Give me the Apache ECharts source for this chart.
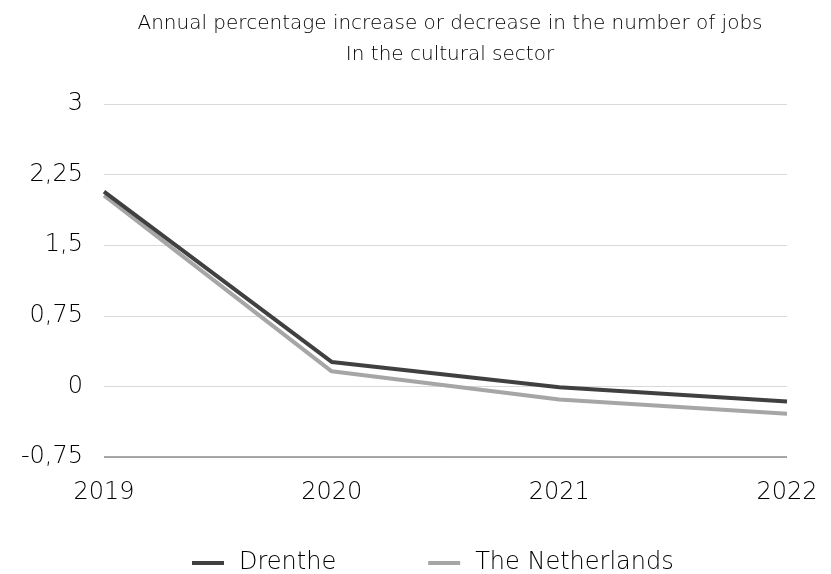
<!DOCTYPE html>
<html>
<head>
<meta charset="utf-8">
<script src="https://cdn.jsdelivr.net/npm/echarts@6/dist/echarts.min.js"></script>
<style>
  html, body { margin: 0; padding: 0; background: #fff; }
  #chart { width: 831px; height: 574px; }
</style>
</head>
<body>
<div id="chart"></div>
<script>
// data
const years = ['2019', '2020', '2021', '2022'];
const drenthe = [2.07, 0.26, -0.01, -0.16];
const netherlands = [2.03, 0.16, -0.14, -0.29];

const font = '"DejaVu Sans", sans-serif';

const chart = echarts.init(document.getElementById('chart'));
chart.setOption({
  animation: false,
  textStyle: { fontFamily: font },
  title: {
    text: 'Annual percentage increase or decrease in the number of jobs\nIn the cultural sector',
    left: 445,
    textAlign: 'center',
    top: 3,
    textStyle: { fontSize: 20, fontWeight: 'lighter', color: '#000', lineHeight: 31, fontFamily: font }
  },
  legend: {
    top: 546,
    left: 187,
    itemGap: 92,
    itemWidth: 32,
    itemHeight: 4,
    icon: 'rect',
    textStyle: { fontSize: 24, fontWeight: 'lighter', color: '#000', padding: [0, 0, 0, 10], fontFamily: font },
    data: ['Drenthe', 'The Netherlands']
  },
  grid: { left: 104, right: 44, top: 104, bottom: 117, containLabel: false },
  xAxis: {
    type: 'category',
    data: years,
    boundaryGap: false,
    axisTick: { show: false },
    axisLine: { show: false },
    axisLabel: { fontSize: 24, fontWeight: 'lighter', color: '#000', margin: 24, fontFamily: font }
  },
  yAxis: {
    type: 'value',
    min: -0.75,
    max: 3,
    interval: 0.75,
    axisLabel: {
      fontSize: 24, fontWeight: 'lighter', color: '#000', margin: 21, fontFamily: font,
      formatter: v => String(v).replace('.', ',')
    },
    splitLine: { lineStyle: { color: '#d9d9d9', width: 1 } }
  },
  series: [
    {
      name: 'Drenthe', type: 'line', data: drenthe,
      symbol: 'none', lineStyle: { color: '#404040', width: 4 }, itemStyle: { color: '#404040' }, z: 3
    },
    {
      name: 'The Netherlands', type: 'line', data: netherlands,
      symbol: 'none', lineStyle: { color: '#a6a6a6', width: 4 }, itemStyle: { color: '#a6a6a6' }, z: 2,
      markLine: {
        silent: true, symbol: 'none', label: { show: false },
        lineStyle: { color: '#8c8c8c', width: 1.5, type: 'solid' },
        data: [{ yAxis: -0.75 }]
      }
    }
  ]
});
</script>
</body>
</html>
